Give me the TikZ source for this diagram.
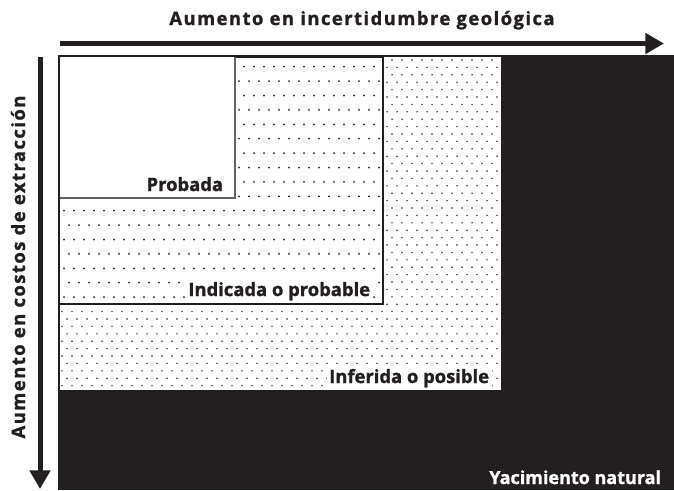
\documentclass[tikz,border=0pt]{standalone}
\usepackage{fontspec}
\setmainfont{Open Sans}[BoldFeatures={FakeBold=1.3}]
\usetikzlibrary{arrows.meta}
\definecolor{ink}{RGB}{35,31,32}
\begin{document}
\begin{tikzpicture}[x=0.75pt,y=-0.75pt,
  lbl/.style={font=\bfseries\fontsize{13.8}{16}\selectfont, text=ink, inner sep=2pt},
  wlbl/.style={lbl, text=white},
  axlbl/.style={lbl, font=\bfseries\fontsize{13.8}{16}\selectfont\addfontfeatures{LetterSpace=8}},
  bigarrow/.style={draw=ink, line width=3.75pt, -{Triangle[length=14pt,width=15pt]}},
  dot/.style={fill=ink}]
\useasboundingbox (0,0) rectangle (674,490);
% black natural deposit
\fill[ink] (58,55) rectangle (674,490);
% inferida
\fill[white] (60,57) rectangle (501,390);
\begin{scope}
\clip (60,57) rectangle (501,390);
\foreach \r in {0,...,45} {
  \pgfmathsetmacro\yy{60+7.4*\r}
  \pgfmathsetmacro\off{mod(\r,2)*5}
  \foreach \c in {0,...,44} \fill[dot] (62+\off+10*\c,\yy) circle[radius=0.6pt];
}
\end{scope}
% indicada
\fill[white] (60,57) rectangle (383,304);
\begin{scope}
\clip (60,57) rectangle (383,304);
\foreach \r in {0,...,16} {
  \pgfmathsetmacro\yy{66.7+14.4*\r}
  \pgfmathsetmacro\off{mod(\r,2)*5}
  \foreach \c in {0,...,32} \fill[dot] (64+\off+10*\c,\yy) circle[radius=0.75pt];
}
\end{scope}
\draw[ink, line width=1.1pt] (60,57) -- (383,57) -- (383,304) -- (60,304);
% probada
\fill[white] (60,57) rectangle (235,198);
\draw[ink!70, line width=0.8pt] (235,57) -- (235,198) -- (60,198);
% labels
\node[lbl, anchor=base east] (prob) at (226,191) {Probada};
\node[lbl, anchor=base east, fill=white] (ind) at (373,296) {Indicada o probable};
\node[lbl, anchor=base east, fill=white] (inf) at (492,383) {Inferida o posible};
\node[wlbl, anchor=base east, font=\bfseries\fontsize{13.5}{16}\selectfont] (yac) at (664,484) {Yacimiento natural};
% arrows
\coordinate (h1) at (60,43.5);
\coordinate (h2) at (664,43.5);
\coordinate (v1) at (40,57);
\coordinate (v2) at (40,489);
\draw[bigarrow] (h1) -- (h2);
\draw[bigarrow] (v1) -- (v2);
\node[axlbl, anchor=base] (title) at (362,25) {Aumento en incertidumbre geológica};
\node[axlbl, anchor=base, rotate=90] (side) at (25,267) {Aumento en costos de extracción};
\end{tikzpicture}
\end{document}
